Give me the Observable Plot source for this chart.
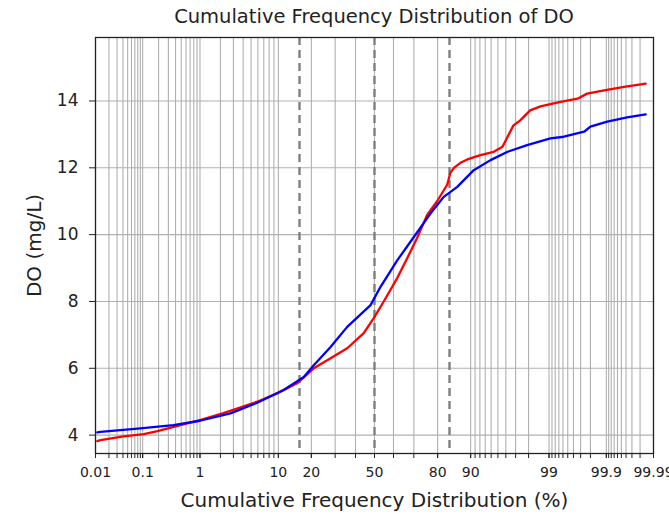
<!DOCTYPE html>
<html>
<head>
<meta charset="utf-8">
<script src="https://cdn.jsdelivr.net/npm/d3@7"></script>
<script src="https://cdn.jsdelivr.net/npm/@observablehq/plot@0.6"></script>
<style>
  body { margin: 0; background: #fff; }
  #wrap { width: 669px; height: 514px; position: relative; overflow: hidden; }
  #title { position: absolute; left: 95px; width: 558px; top: 0; height: 30px; line-height: 34px;
           text-align: center; font-family: "DejaVu Sans", sans-serif; font-size: 19.5px; color: #222; white-space: nowrap; }
  #chart { position: absolute; left: 0; top: 30px; }
</style>
</head>
<body>
<div id="wrap">
  <div id="title">Cumulative Frequency Distribution of DO</div>
  <div id="chart"></div>
</div>
<script>
// ---- data (cumulative percent, DO mg/L) ----
const redPct = [0.011, 0.013, 0.041, 0.105, 0.19, 0.63, 1.0, 2.2, 5.9, 9.7, 15.1, 20.9, 27.9, 35.8, 44.3, 49.6, 54.9, 61.9, 66.9, 71.5, 75.9, 79.8, 83.4, 84.4, 85.5, 87.4, 89.2, 92.1, 94.4, 95.6, 96.2, 96.8, 97.4, 98.1, 98.65, 99.34, 99.66, 99.77, 99.89, 99.956, 99.985];
const redDO  = [3.82, 3.85, 3.96, 4.03, 4.12, 4.35, 4.45, 4.66, 5.0, 5.25, 5.55, 6.0, 6.3, 6.6, 7.05, 7.5, 8.0, 8.7, 9.3, 9.9, 10.6, 11.0, 11.5, 11.85, 12.0, 12.15, 12.25, 12.38, 12.48, 12.63, 12.93, 13.27, 13.42, 13.72, 13.84, 13.97, 14.07, 14.22, 14.32, 14.42, 14.52];
const bluePct = [0.011, 0.013, 0.09, 0.368, 1.0, 2.74, 5.9, 11.3, 17.3, 20.9, 27.9, 35.8, 47.9, 53.2, 61.9, 70.0, 77.2, 82.2, 86.5, 90.7, 93.9, 96.2, 97.9, 99.05, 99.42, 99.74, 99.80, 99.904, 99.962, 99.985];
const blueDO  = [4.08, 4.1, 4.2, 4.3, 4.43, 4.65, 4.97, 5.35, 5.74, 6.09, 6.64, 7.24, 7.89, 8.44, 9.23, 9.93, 10.63, 11.13, 11.43, 11.93, 12.23, 12.48, 12.68, 12.88, 12.93, 13.08, 13.23, 13.38, 13.51, 13.6];

const sigmaLines = [15.87, 50, 84.13];

const majorTicks = [0.01, 0.1, 1, 10, 20, 50, 80, 90, 99, 99.9, 99.99];
const majorLabels = ["0.01", "0.1", "1", "10", "20", "50", "80", "90", "99", "99.9", "99.99"];
const allTicks = [0.01, 0.02, 0.03, 0.04, 0.05, 0.06, 0.07, 0.08, 0.09,
  0.1, 0.2, 0.3, 0.4, 0.5, 0.6, 0.7, 0.8, 0.9,
  1, 2, 3, 4, 5, 6, 7, 8, 9,
  10, 20, 30, 40, 50, 60, 70, 80, 90,
  91, 92, 93, 94, 95, 96, 97, 98, 99,
  99.1, 99.2, 99.3, 99.4, 99.5, 99.6, 99.7, 99.8, 99.9,
  99.91, 99.92, 99.93, 99.94, 99.95, 99.96, 99.97, 99.98, 99.99];
const yTicks = [4, 6, 8, 10, 12, 14];
const xDomainPct = [0.01, 99.99];
const yDomain = [3.45, 15.9];
const xTitle = "Cumulative Frequency Distribution (%)";
const yTitle = "DO (mg/L)";

// inverse normal CDF (probability scale)
function probit(p) {
  const a=[-3.969683028665376e+01,2.209460984245205e+02,-2.759285104469687e+02,1.383577518672690e+02,-3.066479806614716e+01,2.506628277459239e+00];
  const b=[-5.447609879822406e+01,1.615858368580409e+02,-1.556989798598866e+02,6.680131188771972e+01,-1.328068155288572e+01];
  const c=[-7.784894002430293e-03,-3.223964580411365e-01,-2.400758277161838e+00,-2.549732539343734e+00,4.374664141464968e+00,2.938163982698783e+00];
  const d=[7.784695709041462e-03,3.224671290700398e-01,2.445134137142996e+00,3.754408661907416e+00];
  const pl = 0.02425, ph = 1 - pl;
  let q, r;
  if (p < pl) { q = Math.sqrt(-2*Math.log(p)); return (((((c[0]*q+c[1])*q+c[2])*q+c[3])*q+c[4])*q+c[5])/((((d[0]*q+d[1])*q+d[2])*q+d[3])*q+1); }
  if (p <= ph) { q = p - 0.5; r = q*q; return (((((a[0]*r+a[1])*r+a[2])*r+a[3])*r+a[4])*r+a[5])*q/(((((b[0]*r+b[1])*r+b[2])*r+b[3])*r+b[4])*r+1); }
  q = Math.sqrt(-2*Math.log(1-p)); return -(((((c[0]*q+c[1])*q+c[2])*q+c[3])*q+c[4])*q+c[5])/((((d[0]*q+d[1])*q+d[2])*q+d[3])*q+1);
}
const pz = pct => probit(pct / 100);

const red = redPct.map((p, i) => ({p, v: redDO[i]}));
const blue = bluePct.map((p, i) => ({p, v: blueDO[i]}));
const labelMap = new Map(majorTicks.map((t, i) => [pz(t), majorLabels[i]]));

const chart = Plot.plot({
  width: 669,
  height: 484,
  marginLeft: 95,
  marginRight: 16,
  marginTop: 7,
  marginBottom: 61,
  style: {fontFamily: "DejaVu Sans, sans-serif", background: "#fff", color: "#222", overflow: "visible"},
  x: {type: "linear", domain: xDomainPct.map(pz)},
  y: {domain: yDomain},
  marks: [
    Plot.gridX(allTicks.map(pz), {stroke: "#b0b0b0", strokeOpacity: 1, strokeWidth: 1.1}),
    Plot.gridY(yTicks, {stroke: "#b0b0b0", strokeOpacity: 1, strokeWidth: 1.1}),
    Plot.ruleX(sigmaLines, {x: d => pz(d), stroke: "#7f7f7f", strokeWidth: 2.4, strokeDasharray: "8,5"}),
    Plot.line(red, {x: d => pz(d.p), y: "v", stroke: "red", strokeWidth: 2.3}),
    Plot.line(blue, {x: d => pz(d.p), y: "v", stroke: "blue", strokeWidth: 2.3}),
    Plot.frame({stroke: "#222", strokeWidth: 1.3}),
    Plot.axisX(allTicks.map(pz), {tickSize: 5, stroke: "#222", text: null, label: null}),
    Plot.axisX(majorTicks.map(pz), {tickSize: 5, tickPadding: 9, stroke: "#222", tickFormat: z => labelMap.get(z),
      fontSize: 14, fill: "#222", label: null}),
    Plot.axisY(yTicks, {tickSize: 6, tickPadding: 11, stroke: "#222", fontSize: 17, fill: "#222", label: null}),
    Plot.text([xTitle], {frameAnchor: "bottom", dy: 47, lineAnchor: "middle",
      text: d => d, fontSize: 20, fill: "#222"}),
    Plot.text([yTitle], {x: () => pz(xDomainPct[0]), y: () => (yDomain[0] + yDomain[1]) / 2, dx: -61, rotate: -90,
      lineAnchor: "middle", textAnchor: "middle", text: d => d, fontSize: 20, fill: "#222"})
  ]
});
document.getElementById("chart").appendChild(chart);
</script>
</body>
</html>
